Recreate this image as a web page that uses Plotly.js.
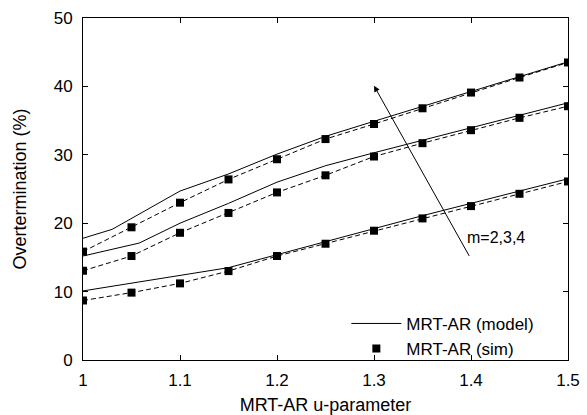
<!DOCTYPE html>
<html>
<head>
<meta charset="utf-8">
<script src="https://cdn.plot.ly/plotly-3.0.1.min.js"></script>
<style>html,body{margin:0;padding:0;background:#fff;}</style>
</head>
<body>
<div id="chart" style="width:587px;height:415px;"></div>
<script>
// Simulation points (u grid)
const simU = [1.0, 1.05, 1.1, 1.15, 1.2, 1.25, 1.3, 1.35, 1.4, 1.45, 1.5];
const simM2 = [8.7, 9.85, 11.2, 13.0, 15.2, 17.0, 18.9, 20.7, 22.5, 24.3, 26.1];
const simM3 = [13.05, 15.2, 18.6, 21.5, 24.5, 27.0, 29.75, 31.7, 33.6, 35.4, 37.1];
const simM4 = [15.85, 19.4, 23.0, 26.4, 29.35, 32.3, 34.5, 36.8, 39.1, 41.3, 43.5];

// Model curves
const modelUM2 = [1.0, 1.05, 1.1, 1.15, 1.2, 1.25, 1.3, 1.35, 1.4, 1.45, 1.5];
const modelM2 = [10.1, 11.2, 12.3, 13.5, 15.4, 17.3, 19.3, 21.1, 22.9, 24.7, 26.5];
const modelUM3 = [1.0, 1.058, 1.1, 1.15, 1.2, 1.25, 1.3, 1.35, 1.4, 1.45, 1.5];
const modelM3 = [15.2, 17.1, 20.0, 22.9, 26.0, 28.4, 30.3, 32.1, 33.9, 35.8, 37.6];
const modelUM4 = [1.0, 1.03, 1.1, 1.15, 1.2, 1.25, 1.3, 1.35, 1.4, 1.45, 1.5];
const modelM4 = [17.8, 19.1, 24.7, 27.2, 30.1, 32.7, 34.9, 37.1, 39.3, 41.4, 43.6];

const xTicks = [1, 1.1, 1.2, 1.3, 1.4, 1.5];
const xTickText = ['1', '1.1', '1.2', '1.3', '1.4', '1.5'];
const yTicks = [0, 10, 20, 30, 40, 50];

const FONT = 'Liberation Sans, Arial, Helvetica, sans-serif';

const modelSets = [[modelUM2, modelM2], [modelUM3, modelM3], [modelUM4, modelM4]];
const simSets = [simM2, simM3, simM4];

const traces = [];
modelSets.forEach((s, i) => {
  traces.push({
    x: s[0], y: s[1], type: 'scatter', mode: 'lines',
    name: 'MRT-AR (model)', legendgroup: 'model', showlegend: i === 0,
    line: {color: '#000', width: 1}
  });
});
simSets.forEach((s) => {
  traces.push({
    x: simU, y: s, type: 'scatter', mode: 'lines',
    showlegend: false, hoverinfo: 'skip',
    line: {color: '#000', width: 1, dash: '5px,3px'}
  });
});
simSets.forEach((s, i) => {
  traces.push({
    x: simU, y: s, type: 'scatter', mode: 'markers',
    name: 'MRT-AR (sim)', legendgroup: 'sim', showlegend: i === 0,
    marker: {symbol: 'square', size: 8, color: '#000'}
  });
});

const layout = {
  width: 587, height: 415,
  margin: {l: 83, r: 19, t: 18, b: 55},
  paper_bgcolor: '#fff', plot_bgcolor: '#fff',
  font: {family: FONT, size: 17, color: '#000'},
  showlegend: true,
  legend: {
    x: 0.543, y: 0.069, xanchor: 'left', yanchor: 'middle',
    bgcolor: 'rgba(0,0,0,0)', borderwidth: 0,
    font: {family: FONT, size: 17, color: '#000'},
    tracegroupgap: 0, itemwidth: 50
  },
  xaxis: {
    range: [1, 1.5], tickvals: xTicks, ticktext: xTickText,
    ticks: 'inside', ticklen: 5, tickcolor: '#000', tickwidth: 1,
    showline: true, linecolor: '#000', linewidth: 1, mirror: 'ticks',
    showgrid: false, zeroline: false, ticklabelstandoff: 5,
    tickfont: {family: FONT, size: 17, color: '#000'},
    title: {text: 'MRT-AR u-parameter', font: {family: FONT, size: 18, color: '#000'}, standoff: 9}
  },
  yaxis: {
    range: [0, 50], tickvals: yTicks,
    ticks: 'inside', ticklen: 5, tickcolor: '#000', tickwidth: 1,
    showline: true, linecolor: '#000', linewidth: 1, mirror: 'ticks',
    showgrid: false, zeroline: false, ticklabelstandoff: 6,
    tickfont: {family: FONT, size: 17, color: '#000'},
    title: {text: 'Overtermination (%)', font: {family: FONT, size: 18, color: '#000'}, standoff: 22}
  },
  annotations: [
    {
      x: 1.30, y: 40.1, xref: 'x', yref: 'y',
      ax: 1.399, ay: 15.0, axref: 'x', ayref: 'y',
      showarrow: true, arrowhead: 2, arrowsize: 1.2, arrowwidth: 1, arrowcolor: '#000', text: ''
    },
    {
      x: 1.394, y: 17.9, xref: 'x', yref: 'y', xanchor: 'left', yanchor: 'middle',
      text: 'm=2,3,4', showarrow: false, font: {family: FONT, size: 16, color: '#000'}
    }
  ]
};

Plotly.newPlot('chart', traces, layout, {displayModeBar: false, staticPlot: true});
</script>
</body>
</html>
